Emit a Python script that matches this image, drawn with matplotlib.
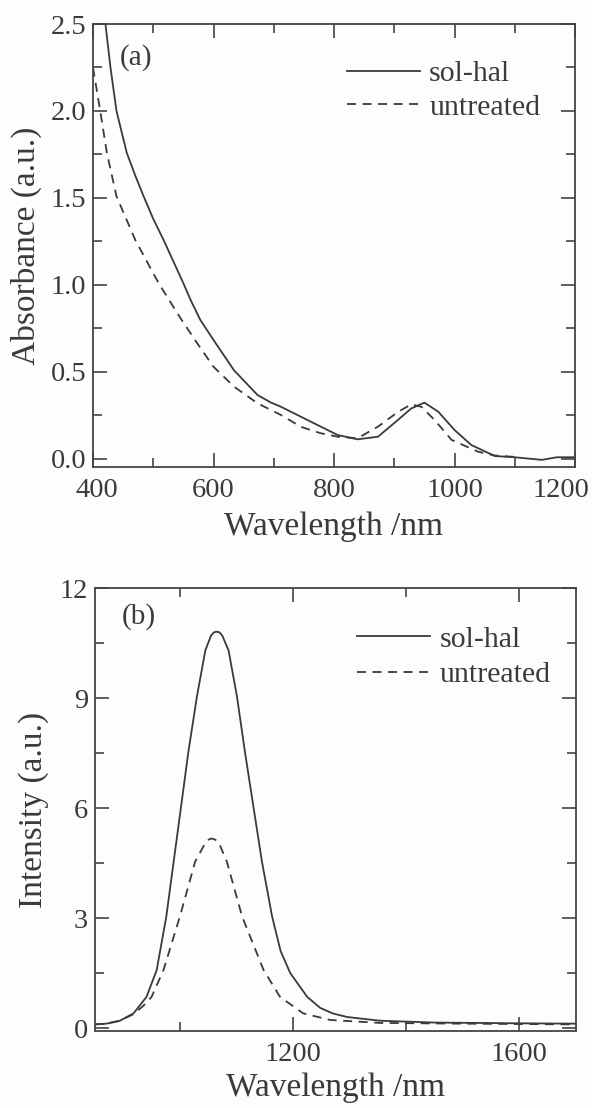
import matplotlib
matplotlib.use("Agg")
import matplotlib.pyplot as plt
from matplotlib.ticker import MultipleLocator, FixedLocator
from matplotlib.transforms import ScaledTranslation

plt.rcParams['font.family'] = ['Liberation Serif', 'DejaVu Serif']

# ---------------- data ----------------
abs_sol_wl = [415, 420, 429, 439, 456, 470, 484, 500, 517, 550, 562, 578, 600, 634, 673, 695,
              712, 745, 778, 806, 839, 873, 906, 928, 950, 973, 1000, 1028, 1067, 1100, 1145,
              1170, 1200]
abs_sol = [2.75, 2.52, 2.25, 2.0, 1.76, 1.63, 1.51, 1.38, 1.26, 1.01, 0.914, 0.8, 0.684, 0.51,
           0.368, 0.325, 0.30, 0.243, 0.186, 0.138, 0.113, 0.128, 0.224, 0.29, 0.324, 0.272,
           0.167, 0.08, 0.017, 0.01, -0.005, 0.01, 0.01]

abs_unt_wl = [400, 412, 423, 439, 470, 509, 545, 573, 600, 634, 673, 712, 745, 778, 806, 839,
              873, 906, 928, 945, 967, 995, 1039, 1067, 1100]
abs_unt = [2.25, 2.0, 1.76, 1.51, 1.26, 1.01, 0.81, 0.665, 0.53, 0.416, 0.32, 0.253, 0.185,
           0.148, 0.128, 0.119, 0.186, 0.27, 0.314, 0.30, 0.224, 0.11, 0.042, 0.02, 0.012]

pl_sol_wl = [850, 870, 894, 918, 941, 959, 976, 989, 1002, 1015, 1030, 1045, 1055, 1060, 1065,
             1070, 1075, 1086, 1101, 1115, 1130, 1145, 1163, 1178, 1195, 1225, 1248, 1270,
             1296, 1354, 1450, 1600, 1700]
pl_sol = [0.1, 0.12, 0.2, 0.4, 0.85, 1.58, 3.04, 4.54, 6.03, 7.53, 9.03, 10.3, 10.7, 10.79,
          10.81, 10.79, 10.7, 10.3, 9.03, 7.53, 6.03, 4.54, 3.04, 2.1, 1.5, 0.85, 0.55, 0.4,
          0.3, 0.2, 0.15, 0.13, 0.12]

pl_unt_wl = [850, 870, 894, 918, 935, 950, 971, 1000, 1027, 1045, 1051, 1056, 1062, 1068, 1083,
             1110, 1148, 1177, 1218, 1266, 1354, 1500, 1700]
pl_unt = [0.1, 0.12, 0.2, 0.38, 0.6, 0.85, 1.58, 3.04, 4.54, 5.05, 5.14, 5.17, 5.14, 5.08,
          4.54, 3.04, 1.58, 0.85, 0.4, 0.22, 0.14, 0.12, 0.1]

labels = ['sol-hal', 'untreated']
# ----------------------------------------------------------------

ink = '#3a3a3a'
dash = (0, (5.0, 3.6))

fig = plt.figure(figsize=(5.92, 11.08), dpi=100)
fig.patch.set_facecolor('#fdfdfd')

ax1 = fig.add_axes([93/592, 1-467/1108, (575-93)/592, (467-24)/1108])
ax2 = fig.add_axes([95/592, 1-1031/1108, (576-95)/592, (1031-588)/1108])

def style(ax):
    ax.set_facecolor('#fdfdfd')
    for s in ax.spines.values():
        s.set_color('#444444')
        s.set_linewidth(1.3)
    ax.tick_params(which='both', direction='in', top=True, right=True,
                   color='#444444', width=1.2, labelcolor=ink, labelsize=20.5)
    ax.tick_params(which='major', length=10)
    ax.tick_params(which='minor', length=6.5)
    ax.tick_params(axis='x', pad=8)
    ax.tick_params(axis='y', pad=5)

# ---- panel (a)
style(ax1)
ax1.plot(abs_sol_wl, abs_sol, color=ink, lw=1.3, label=labels[0])
ax1.plot(abs_unt_wl, abs_unt, color=ink, lw=1.3, linestyle=dash, label=labels[1])
ax1.set_xlim(400, 1200)
ax1.set_ylim(-0.046, 2.5)
ax1.xaxis.set_major_locator(MultipleLocator(200))
ax1.xaxis.set_minor_locator(MultipleLocator(100))
ax1.yaxis.set_major_locator(MultipleLocator(0.5))
ax1.yaxis.set_minor_locator(MultipleLocator(0.25))
ax1.yaxis.set_major_formatter(plt.FormatStrFormatter('%.1f'))
ax1.set_xlabel('Wavelength /nm', fontsize=24, color=ink, labelpad=6)
ax1.set_ylabel('Absorbance (a.u.)', fontsize=24, color=ink, labelpad=6)
ax1.text(0.055, 0.955, '(a)', transform=ax1.transAxes, fontsize=21, color=ink,
         ha='left', va='top')
ax1.legend(loc='upper left', bbox_to_anchor=(0.527, 0.918), frameon=False,
           fontsize=21.5, handlelength=2.45, handletextpad=0.3, borderpad=0,
           borderaxespad=0, labelspacing=0.22, labelcolor=ink)

# ---- panel (b)
style(ax2)
ax2.plot(pl_sol_wl, pl_sol, color=ink, lw=1.3, label=labels[0])
ax2.plot(pl_unt_wl, pl_unt, color=ink, lw=1.3, linestyle=dash, label=labels[1])
ax2.set_xlim(850, 1700)
ax2.set_ylim(-0.08, 12)
ax2.xaxis.set_major_locator(FixedLocator([1200, 1600]))
ax2.xaxis.set_minor_locator(FixedLocator([1000, 1400]))
ax2.yaxis.set_major_locator(MultipleLocator(3))
ax2.yaxis.set_minor_locator(MultipleLocator(1.5))
ax2.set_xlabel('Wavelength /nm', fontsize=24, color=ink, labelpad=4)
ax2.set_ylabel('Intensity (a.u.)', fontsize=24, color=ink, labelpad=8)
ax2.text(0.055, 0.965, '(b)', transform=ax2.transAxes, fontsize=21, color=ink,
         ha='left', va='top')
ax2.legend(loc='upper left', bbox_to_anchor=(0.545, 0.915), frameon=False,
           fontsize=21.5, handlelength=2.45, handletextpad=0.3, borderpad=0,
           borderaxespad=0, labelspacing=0.3, labelcolor=ink)

# nudge the edge tick labels of panel (a) inward, as in the reference
fig.canvas.draw()
ticks = ax1.xaxis.get_major_ticks()
locs = ax1.xaxis.get_majorticklocs()
for t, loc in zip(ticks, locs):
    if abs(loc - 1200) < 1e-6:
        t.label1.set_transform(t.label1.get_transform() +
                               ScaledTranslation(-14/100, 0, fig.dpi_scale_trans))
    if abs(loc - 400) < 1e-6:
        t.label1.set_transform(t.label1.get_transform() +
                               ScaledTranslation(4/100, 0, fig.dpi_scale_trans))

fig.savefig('out.png', dpi=100, facecolor=fig.get_facecolor())
